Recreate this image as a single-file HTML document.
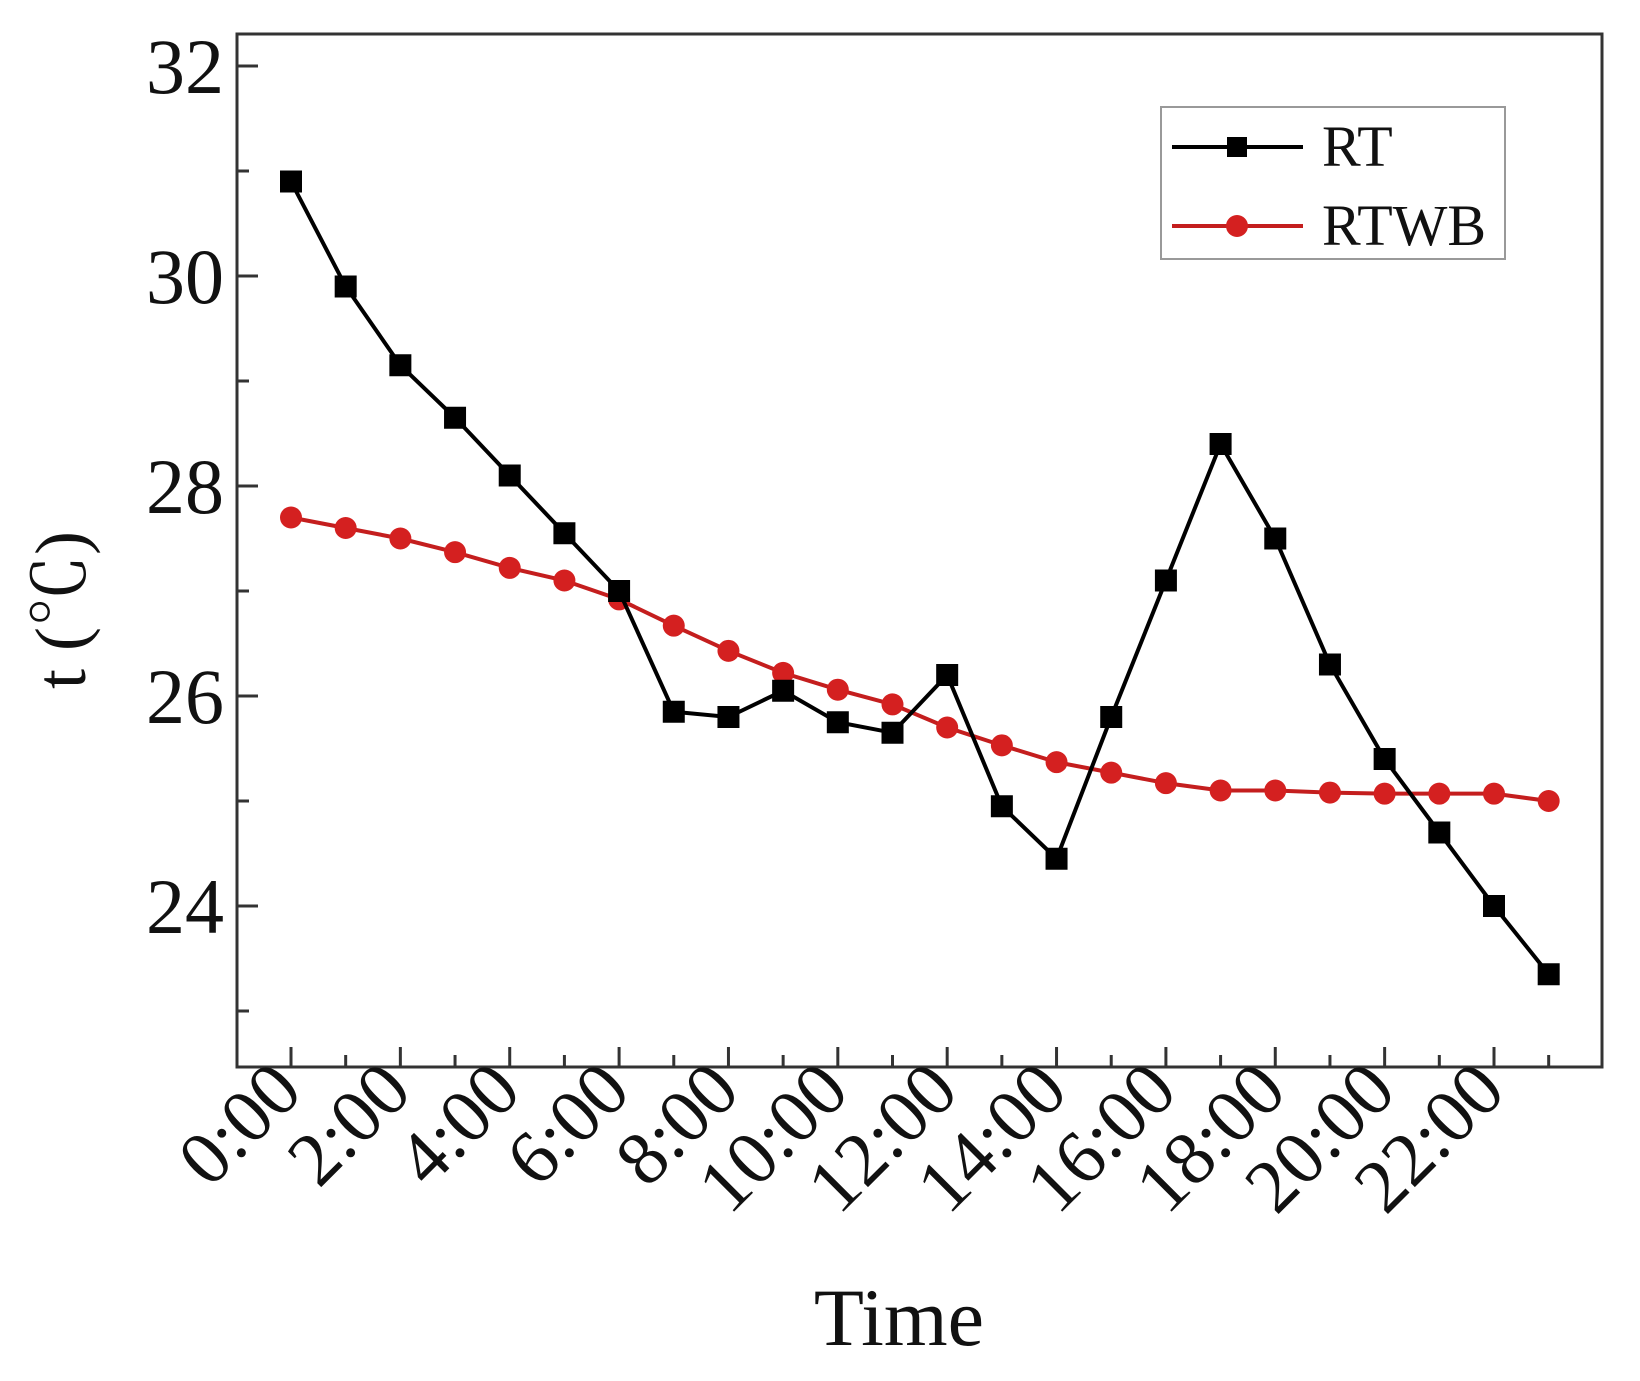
<!DOCTYPE html>
<html><head><meta charset="utf-8"><style>
html,body{margin:0;padding:0;background:#fff}
svg{display:block}
text{font-family:"Liberation Serif","Noto Serif CJK SC",serif;fill:#111}
</style></head><body>
<svg id="chart" width="1640" height="1381" viewBox="0 0 1640 1381">
<rect x="237" y="34" width="1365" height="1033" fill="#fff" stroke="#333" stroke-width="3"/>
<g id="yaxis"></g>
<g id="xaxis"></g>
<g id="series"></g>
<text x="899" y="1345" font-size="82" text-anchor="middle">Time</text>
<text transform="translate(85,610) rotate(-90)" font-size="72" text-anchor="middle">t (℃)</text>
<g>
<rect x="1161" y="107" width="344" height="152" fill="#fff" stroke="#999" stroke-width="2"/>
<g>
<line x1="1172" y1="147" x2="1303" y2="147" stroke="#000" stroke-width="4"/>
<rect x="1227" y="137" width="20" height="20" fill="#000"/>
<text x="1322" y="166" font-size="58">RT</text></g>
<g>
<line x1="1172" y1="226" x2="1303" y2="226" stroke="#c41e1e" stroke-width="4"/>
<circle cx="1237" cy="226" r="11" fill="#d42020"/>
<text x="1322" y="245" font-size="58">RTWB</text></g>
</g>
</svg>
<script>
const hours = [0,1,2,3,4,5,6,7,8,9,10,11,12,13,14,15,16,17,18,19,20,21,22,23];
const rtValues = [30.9,29.9,29.15,28.65,28.1,27.55,27.0,25.85,25.8,26.05,25.75,25.65,26.2,24.95,24.45,25.8,27.1,28.4,27.5,26.3,25.4,24.7,24.0,23.35];
const rtwbValues = [27.7,27.6,27.5,27.37,27.22,27.1,26.92,26.67,26.43,26.22,26.06,25.92,25.7,25.53,25.37,25.27,25.17,25.1,25.1,25.08,25.07,25.07,25.07,25.0];
const yTicks = [24,26,28,30,32];
const yMinorTicks = [23,25,27,29,31];
const xTickLabels = ["0:00","2:00","4:00","6:00","8:00","10:00","12:00","14:00","16:00","18:00","20:00","22:00"];
const xLabelHours = [0,2,4,6,8,10,12,14,16,18,20,22];

const NS="http://www.w3.org/2000/svg";
function xs(h){return 291+h*(1494-291)/22;}
function ys(v){return 66+(32-v)*105;}
function mk(tag,attrs,parent){const e=document.createElementNS(NS,tag);for(const k in attrs)e.setAttribute(k,attrs[k]);parent.appendChild(e);return e;}
const yax=document.getElementById('yaxis'),xax=document.getElementById('xaxis'),ser=document.getElementById('series');
yTicks.forEach(v=>{
  const t=mk('line',{x1:237,x2:258,y1:ys(v),y2:ys(v),stroke:'#333','stroke-width':3},yax);
  
  
  const l=mk('text',{x:224,y:ys(v)+27,'font-size':78,'text-anchor':'end'},yax);
  l.textContent=v;
  
  
});
yMinorTicks.forEach(v=>{
  const t=mk('line',{x1:237,x2:249,y1:ys(v),y2:ys(v),stroke:'#333','stroke-width':3},yax);
  
  
});
hours.forEach(h=>{
  const len=h%2===0?20:12;
  const t=mk('line',{x1:xs(h),x2:xs(h),y1:1067,y2:1067-len,stroke:'#333','stroke-width':3},xax);
  
  
});
xLabelHours.forEach((h,i)=>{
  const x=xs(h)+14,y=1094;
  const l=mk('text',{x:x,y:y,'font-size':76,'text-anchor':'end',transform:`rotate(-45 ${x} ${y})`},xax);
  l.textContent=xTickLabels[i];
  
  
});
function series(vals,color,shape,name){
  const g=mk('g',{},ser);
  
  
  const p=mk('polyline',{points:vals.map((v,i)=>xs(hours[i])+','+ys(v)).join(' '),fill:'none',stroke:color,'stroke-width':4},g);
  
  
  vals.forEach((v,i)=>{
    let m;
    if(shape==='sq') m=mk('rect',{x:xs(hours[i])-11,y:ys(v)-11,width:22,height:22,fill:'#000'},g);
    else m=mk('circle',{cx:xs(hours[i]),cy:ys(v),r:11,fill:'#d42020'},g);
    
    
  });
}
series(rtwbValues,'#c41e1e','ci','rtwb-series');
series(rtValues,'#000','sq','rt-series');
</script>
</body></html>
